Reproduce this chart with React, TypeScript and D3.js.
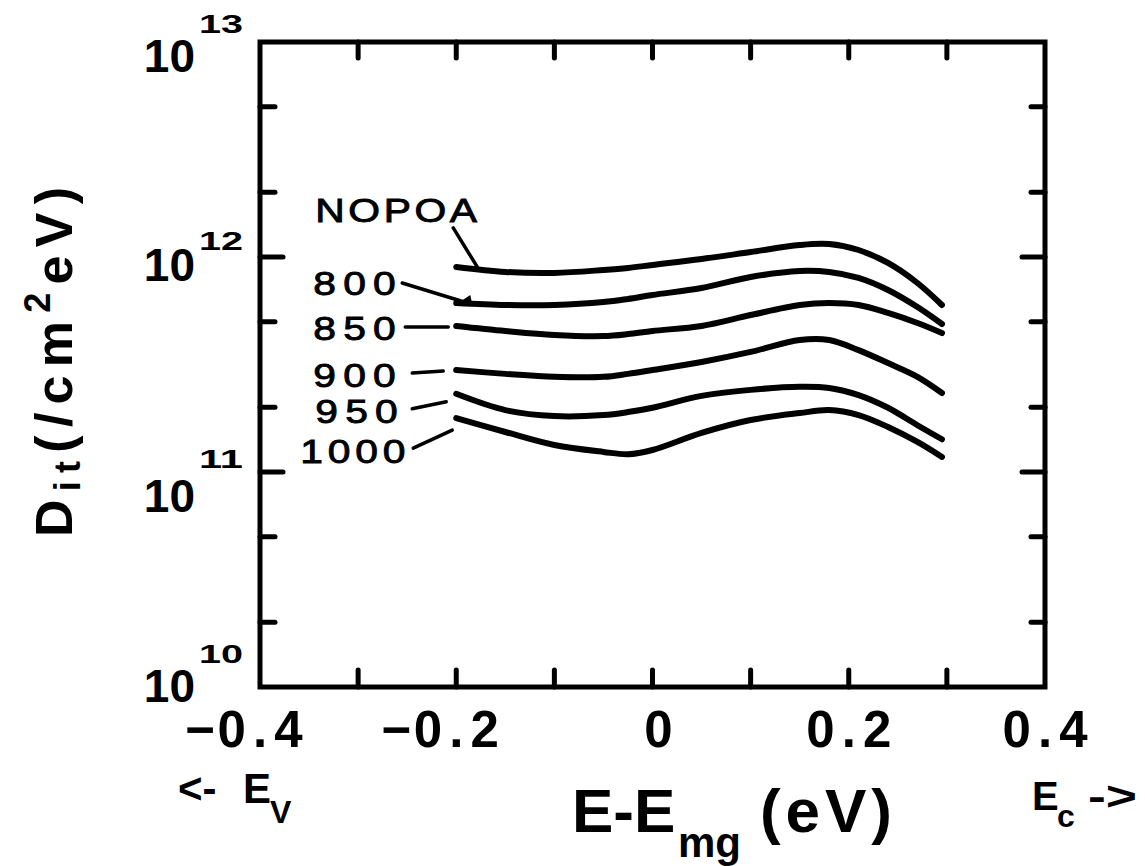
import React from "react";
import * as d3 from "d3";

// ---- data ----
const energy = [-0.2, -0.15, -0.1, -0.05, -0.025, 0, 0.05, 0.1, 0.15, 0.18, 0.21, 0.24, 0.27, 0.295];
const ditNOPOA = [8.99e11, 8.52e11, 8.43e11, 8.7e11, 8.89e11, 9.18e11, 9.79e11, 1.055e12, 1.137e12, 1.149e12, 1.078e12, 9.38e11, 7.57e11, 5.98e11];
const dit800 = [6.11e11, 5.98e11, 5.98e11, 6.17e11, 6.38e11, 6.66e11, 7.17e11, 8.07e11, 8.61e11, 8.52e11, 7.99e11, 7.02e11, 5.85e11, 4.88e11];
const dit850 = [4.78e11, 4.53e11, 4.34e11, 4.29e11, 4.38e11, 4.53e11, 4.78e11, 5.37e11, 5.98e11, 6.11e11, 5.98e11, 5.49e11, 4.93e11, 4.43e11];
const dit900 = [2.98e11, 2.86e11, 2.77e11, 2.77e11, 2.86e11, 2.98e11, 3.25e11, 3.62e11, 4.11e11, 4.11e11, 3.69e11, 3.21e11, 2.77e11, 2.33e11];
const dit950 = [2.31e11, 1.94e11, 1.82e11, 1.84e11, 1.9e11, 1.99e11, 2.26e11, 2.41e11, 2.49e11, 2.46e11, 2.28e11, 1.99e11, 1.65e11, 1.42e11];
const dit1000 = [1.78e11, 1.535e11, 1.335e11, 1.24e11, 1.21e11, 1.266e11, 1.52e11, 1.745e11, 1.88e11, 1.94e11, 1.84e11, 1.62e11, 1.38e11, 1.175e11];

const seriesNames = ["NOPOA", "800", "850", "900", "950", "1000"];
const seriesValues = [ditNOPOA, dit800, dit850, dit900, dit950, dit1000];

const xTickLabels = [-0.4, -0.2, 0, 0.2, 0.4];
const xTicks = [-0.3, -0.2, -0.1, 0, 0.1, 0.2, 0.3];
const yDecades = [1e10, 1e11, 1e12, 1e13];
const yExponents = ["10", "11", "12", "13"];
const yMinorMultipliers = [2, 5];

// ---- layout ----
const labelLayout = [
  { tx: -141, ty: -45, sp: 3, l: [-3, -39, 21, 0] },
  { tx: -143, ty: -8, sp: 6, l: [-54, -20, 8, -1], arrow: true },
  { tx: -143, ty: 14, sp: 6, l: [-51, 1, -8, 1] },
  { tx: -143, ty: 17, sp: 6, l: [-44, 3, -13, 1] },
  { tx: -141, ty: 29, sp: 6, l: [-44, 15, -10, 8] },
  { tx: -156, ty: 45, sp: 4, l: [-43, 30, -4, 12] },
];
const yLabelBaseDy = [15, 40, 24, 30];
const ySupDy = [-24, -4, -7, -9];

const W = 1145;
const H = 866;
const L = 260, R = 1045, T = 42, B = 687;
const FONT = "'Liberation Sans', Arial, Helvetica, sans-serif";

export default function App() {
  const x = d3.scaleLinear().domain([-0.4, 0.4]).range([L, R]);
  const y = d3.scaleLog().domain([1e10, 1e13]).range([B, T]);
  const line = d3
    .line<number>()
    .x((_, i) => x(energy[i]))
    .y((d) => y(d))
    .curve(d3.curveCatmullRom.alpha(0.5));

  const minorY: number[] = [];
  yDecades.slice(0, -1).forEach((dec) => yMinorMultipliers.forEach((m) => minorY.push(dec * m)));

  return (
    <svg
      width={W}
      height={H}
      style={{ position: "absolute", left: 0, top: 0, background: "#fff" }}
      fontFamily={FONT}
    >
      <rect x={0} y={0} width={W} height={H} fill="#fff" />
      {/* frame */}
      <rect x={L} y={T} width={R - L} height={B - T} fill="none" stroke="#000" strokeWidth={5} />
      {/* x ticks top & bottom */}
      {xTicks.map((t) => (
        <g key={"xt" + t} stroke="#000" strokeWidth={5} strokeLinecap="round">
          <line x1={x(t)} x2={x(t)} y1={B} y2={B - 17} />
          <line x1={x(t)} x2={x(t)} y1={T} y2={T + 16} />
        </g>
      ))}
      {/* y ticks */}
      {yDecades.slice(1, -1).map((t) => (
        <g key={"yM" + t} stroke="#000" strokeWidth={5} strokeLinecap="round">
          <line x1={L} x2={L + 23} y1={y(t)} y2={y(t)} />
          <line x1={R} x2={R - 23} y1={y(t)} y2={y(t)} />
        </g>
      ))}
      {minorY.map((t) => (
        <g key={"ym" + t} stroke="#000" strokeWidth={5} strokeLinecap="round">
          <line x1={L} x2={L + 15} y1={y(t)} y2={y(t)} />
          <line x1={R} x2={R - 14} y1={y(t)} y2={y(t)} />
        </g>
      ))}
      {/* y tick labels */}
      {yDecades.map((t, i) => (
        <g key={"yl" + t} fontWeight="bold" fill="#000">
          <text x={195} y={y(t) + yLabelBaseDy[i]} fontSize={46} textAnchor="end">
            10
          </text>
          <text x={199} y={y(t) + ySupDy[i]} fontSize={25} textLength={44} lengthAdjust="spacingAndGlyphs">
            {yExponents[i]}
          </text>
        </g>
      ))}
      {/* x tick labels */}
      {xTickLabels.map((t) => {
        const txt = d3.format(".1f")(Math.abs(t)).replace(/^0\.0$/, "0");
        return (
          <g key={"xl" + t} fontWeight="bold" fill="#000" fontSize={51}>
            <text x={x(t) + (t === 0 ? 6 : 0)} y={747} textAnchor="middle" textLength={t === 0 ? undefined : 85} lengthAdjust="spacing">
              {txt}
            </text>
            {t < 0 && (
              <text x={x(t) - 45} y={747} textAnchor="end">
                {"\u2212"}
              </text>
            )}
          </g>
        );
      })}
      {/* curves */}
      {seriesValues.map((vals, i) => (
        <path
          key={"c" + i}
          d={line(vals) || ""}
          fill="none"
          stroke="#000"
          strokeWidth={6}
          strokeLinecap="round"
          strokeLinejoin="round"
        />
      ))}
      {/* curve labels */}
      {seriesNames.map((name, i) => {
        const sx = x(energy[0]);
        const sy = y(seriesValues[i][0]);
        const lay = labelLayout[i];
        const [a, b, c, d] = lay.l;
        return (
          <g key={"lab" + name}>
            <g transform={`translate(${sx + lay.tx},${sy + lay.ty}) scale(1.2,1)`}>
              <text
                x={0}
                y={0}
                fontSize={34}
                letterSpacing={lay.sp}
                fill="#000"
                stroke="#000"
                strokeWidth={0.9}
              >
                {name}
              </text>
            </g>
            <line x1={sx + a} y1={sy + b} x2={sx + c} y2={sy + d} stroke="#000" strokeWidth={3.5} strokeLinecap="round" />
            {lay.arrow && (
              <path
                d={`M${sx + 2},${sy} L${sx + 14},${sy - 8} L${sx + 16},${sy + 1} Z`}
                fill="#000"
              />
            )}
          </g>
        );
      })}
      {/* y axis title */}
      <text
        transform="translate(72,537) rotate(-90)"
        fontSize={52}
        fontWeight="bold"
        fill="#000"
        textLength={350}
        lengthAdjust="spacing"
      >
        <tspan>D</tspan>
        <tspan fontSize={36} dy={8}>it</tspan>
        <tspan dy={-8}>(/cm</tspan>
        <tspan fontSize={36} dy={-22}>2</tspan>
        <tspan dy={22}>eV)</tspan>
      </text>
      {/* x axis title */}
      <g fontWeight="bold" fill="#000">
        <text x={572} y={832} fontSize={62}>E-E</text>
        <text x={678} y={857} fontSize={42}>mg</text>
        <text x={760} y={832} fontSize={62} textLength={132} lengthAdjust="spacing">(eV)</text>
        <text x={178} y={803} fontSize={42}>{"<-"}</text>
        <text x={243} y={803} fontSize={42}>E</text>
        <text x={270} y={823} fontSize={32}>V</text>
        <text x={1032} y={810} fontSize={40}>E</text>
        <text x={1057} y={827} fontSize={32}>c</text>
        <text x={1088} y={810} fontSize={40} textLength={49} lengthAdjust="spacingAndGlyphs">{"->"}</text>
      </g>
    </svg>
  );
}
